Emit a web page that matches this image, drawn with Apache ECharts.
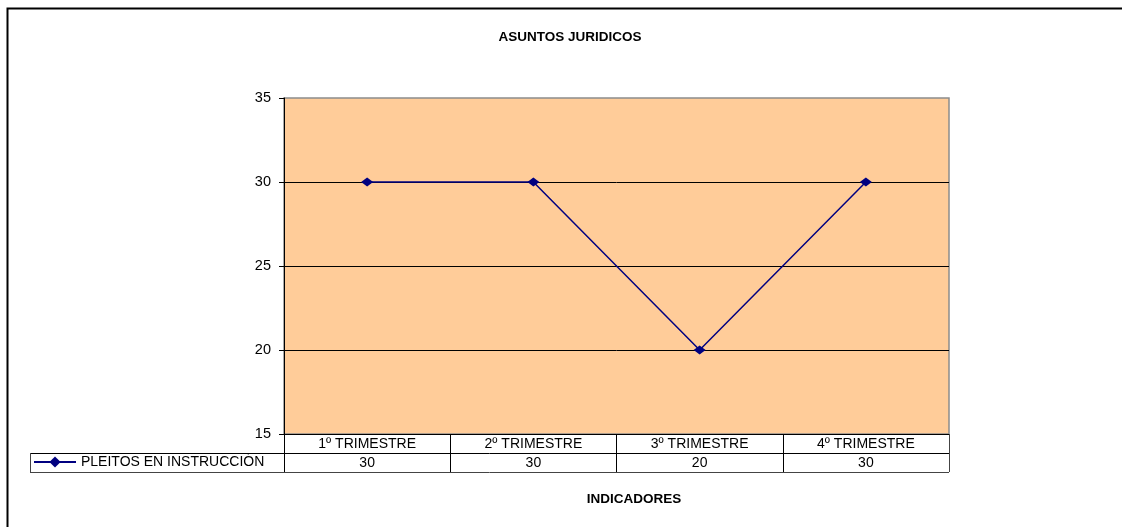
<!DOCTYPE html>
<html>
<head>
<meta charset="utf-8">
<script src="https://cdn.jsdelivr.net/npm/echarts@6/dist/echarts.min.js"></script>
<style>
html,body{margin:0;padding:0;background:#fff;}
#chart{width:1122px;height:527px;}
</style>
</head>
<body>
<div id="chart"></div>
<script>
var myChart = echarts.init(document.getElementById("chart"));

var categories = ['1º TRIMESTRE','2º TRIMESTRE','3º TRIMESTRE','4º TRIMESTRE'];
var pleitos = [30,30,20,30];
var seriesName = 'PLEITOS EN INSTRUCCIÓN';

// plot area in px
var gL = 284, gR = 949, gT = 98, gB = 434;
var rowH = 19, keyLeft = 30;
var font = '"Liberation Sans", Arial, sans-serif';

myChart.setOption({
    animation:false,
    backgroundColor:'#fff',
    title:[
        {text:'ASUNTOS JURIDICOS',left:570,top:30,textAlign:'center',padding:0,
         textStyle:{fontFamily:font,fontSize:13.5,fontWeight:'bold',color:'#000'}},
        {text:'INDICADORES',left:634,top:492,textAlign:'center',padding:0,
         textStyle:{fontFamily:font,fontSize:13.5,fontWeight:'bold',color:'#000'}}
    ],
    legend:{
        data:[seriesName],
        left:keyLeft+3,
        top:gB+rowH+2,
        itemWidth:42,
        itemHeight:14,
        itemGap:4,
        padding:0,
        textStyle:{fontFamily:font,fontSize:14,color:'#000',padding:[2,0,0,0]}
    },
    grid:{
        left:gL,top:gT,right:1122-gR,bottom:527-gB,
        show:true,backgroundColor:'#FFCC99',borderColor:'#8c8c8c',borderWidth:1.5
    },
    xAxis:[
        {
            type:'category',
            data:categories,
            boundaryGap:true,
            axisLine:{lineStyle:{color:'#000',width:1}},
            axisTick:{show:true,length:rowH*2,inside:false,lineStyle:{color:'#000'}},
            axisLabel:{fontFamily:font,fontSize:14,color:'#000',margin:3,interval:0}
        },
        {
            type:'category',
            data:categories,
            position:'bottom',
            offset:rowH,
            boundaryGap:true,
            axisLine:{show:false},
            axisTick:{show:false},
            axisLabel:{fontFamily:font,fontSize:14,color:'#000',margin:3,interval:0,
                formatter:function(v,i){return String(pleitos[i]);}}
        }
    ],
    yAxis:{
        type:'value',
        min:15,max:35,interval:5,
        axisLine:{show:true,lineStyle:{color:'#000'}},
        axisTick:{show:true,length:5,lineStyle:{color:'#000'}},
        axisLabel:{fontFamily:font,fontSize:14.5,color:'#000',margin:13},
        splitLine:{show:true,showMaxLine:false,lineStyle:{color:'#000',width:1}}
    },
    graphic:[
        {type:'rect',shape:{x:7.5,y:8.5,width:3000,height:3000},
         style:{fill:'none',stroke:'#000',lineWidth:2},silent:true,z:100},
        {type:'line',shape:{x1:keyLeft,y1:gB+rowH+0.5,x2:gR,y2:gB+rowH+0.5},style:{stroke:'#000',lineWidth:1},z:100},
        {type:'line',shape:{x1:keyLeft,y1:gB+2*rowH+0.5,x2:gR,y2:gB+2*rowH+0.5},style:{stroke:'#444',lineWidth:1},z:100},
        {type:'line',shape:{x1:keyLeft+0.5,y1:gB+rowH,x2:keyLeft+0.5,y2:gB+2*rowH},style:{stroke:'#444',lineWidth:1},z:100},
        {type:'line',shape:{x1:gR+0.5,y1:gB,x2:gR+0.5,y2:gB+2*rowH},style:{stroke:'#444',lineWidth:1},z:100}
    ],
    series:[
        {
            name:seriesName,
            type:'line',
            data:pleitos,
            symbol:'diamond',
            symbolSize:[12,9],
            color:'#000080',
            lineStyle:{color:'#000080',width:1.5},
            itemStyle:{color:'#000080'},
            z:10
        }
    ]
});
</script>
</body>
</html>
